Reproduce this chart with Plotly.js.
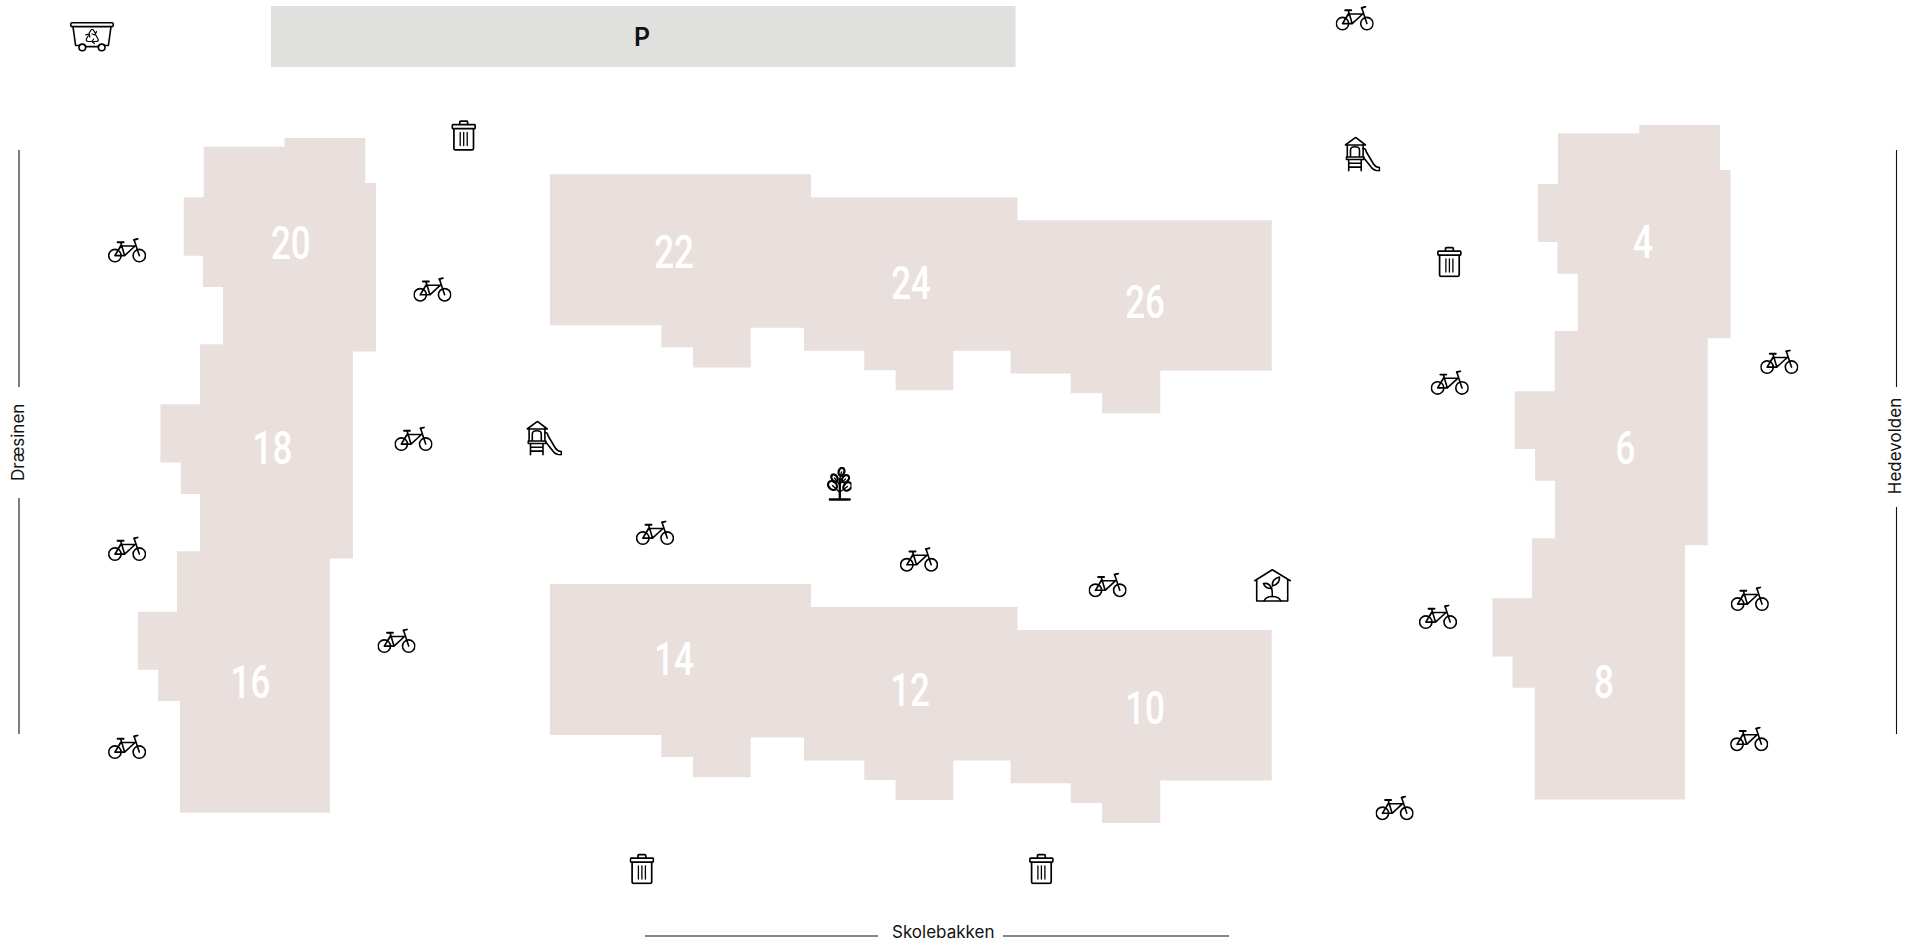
<!DOCTYPE html>
<html>
<head>
<meta charset="utf-8">
<script src="https://cdn.plot.ly/plotly-3.0.1.min.js"></script>
<style>html,body{margin:0;padding:0;background:#fff;overflow:hidden}#chart{width:1917px;height:942px}</style>
</head>
<body>
<div id="chart"></div>
<script>
// Site plan, read in picture units (x to the right, y downward)
const westBlockX = [203.7,284.5,284.5,365.3,365.3,376,376,353,353,330,330,180,180,158,158,138,138,177,177,200,200,180.8,180.8,160.4,160.4,200,200,222.9,222.9,202.9,202.9,183.7,183.7,203.7,203.7];
const westBlockY = [146.7,146.7,138,138,183,183,351.5,351.5,558.5,558.5,812.7,812.7,701,701,669.7,669.7,611.7,611.7,551.2,551.2,494,494,462.6,462.6,404.3,404.3,344.2,344.2,287,287,255.7,255.7,197.3,197.3,146.7];

const eastBlockX = [1557.9,1639.1,1639.1,1720,1720,1730.5,1730.5,1707.8,1707.8,1685,1685,1534.7,1534.7,1512.4,1512.4,1492.5,1492.5,1531.9,1531.9,1555,1555,1535,1535,1514.8,1514.8,1554.6,1554.6,1577.8,1577.8,1557.5,1557.5,1538,1538,1557.9,1557.9];
const eastBlockY = [133.3,133.3,125,125,170,170,338.2,338.2,545.2,545.2,799.5,799.5,687.7,687.7,656.4,656.4,598.2,598.2,538.2,538.2,480.7,480.7,449,449,391.3,391.3,331,331,273.7,273.7,242,242,184,184,133.3];

const northBlockX = [549.9,811,811,1017.5,1017.5,1271.8,1271.8,1160.3,1160.3,1102,1102,1070.7,1070.7,1010.5,1010.5,953.3,953.3,895.6,895.6,864.3,864.3,804,804,750.8,750.8,693,693,661.3,661.3,549.9,549.9];
const northBlockY = [174.2,174.2,197.2,197.2,220.3,220.3,370.8,370.8,413.2,413.2,393.2,393.2,373.5,373.5,350.8,350.8,390.2,390.2,370.2,370.2,350.8,350.8,327.8,327.8,367.5,367.5,347.2,347.2,325.2,325.2,174.2];

const southBlockX = [549.9,811,811,1017.5,1017.5,1271.8,1271.8,1160.3,1160.3,1102,1102,1070.7,1070.7,1010.5,1010.5,953.3,953.3,895.6,895.6,864.3,864.3,804,804,750.8,750.8,693,693,661.3,661.3,549.9,549.9];
const southBlockY = [584,584,607,607,630,630,780.5,780.5,823,823,803,803,783.2,783.2,760.5,760.5,800,800,780,780,760.5,760.5,737.5,737.5,777.2,777.2,757,757,735,735,584];

const parkingX = [271,1015.5,1015.5,271,271];
const parkingY = [6,6,67,67,6];

const houseNumbers = ["20","18","16","22","24","26","14","12","10","4","6","8"];
const houseX = [290.8,272.4,250.4,674,911,1145,674,910,1145,1643,1625.5,1604];
const houseY = [247,452.5,686.5,256.5,287.5,306,663.5,694,712.5,246.5,452.5,686.5];

const bikeX = [1354.7,127.1,432.4,413.5,127.1,396.5,127.1,655,919,1107.6,1449.8,1779.3,1438,1749.8,1749.2,1394.6];
const bikeY = [18.5,250.5,289.7,439,549,641,747,533,559.7,585.2,382.8,362,617,599,739.2,808.2];
const trashX = [463.7,1449.4,641.9,1041.4];
const trashY = [135,261.5,868.5,868.5];
const playX = [544.3,1362.5];
const playY = [438,154];
const recycleX = [92];
const recycleY = [37];
const treeX = [839];
const treeY = [484];
const greenhouseX = [1272.5];
const greenhouseY = [585.5];

const roadLinesX = [[19,19],[19,19],[1896.5,1896.5],[1896.5,1896.5],[645,878],[1003,1229]];
const roadLinesY = [[150,387],[498,734],[150,387],[507,734],[936,936],[936,936]];
const roadNames = ["Skolebakken","Dræsinen","Hedevolden"];
const roadNameX = [943,18,1894.5];
const roadNameY = [931.5,443,446.7];
const roadNameAngle = [0,-90,-90];

const buildingColor = "#e9e0de";
const parkingColor = "#e0e0de";

function icon(w,h,body){
  const svg = '<svg xmlns="http://www.w3.org/2000/svg" width="'+(w*4)+'" height="'+(h*4)+'" viewBox="0 0 '+w+' '+h+'" fill="none" stroke="#000" stroke-linecap="round" stroke-linejoin="round">'+body+'</svg>';
  return {w:w,h:h,src:'data:image/svg+xml;base64,'+btoa(svg)};
}
const bikeIcon = icon(38,25,'<g stroke-width="1.6"><circle cx="6.8" cy="17.6" r="6.2"/><circle cx="31.2" cy="17.6" r="6.2"/><path d="M6.8 17.6H16.5L27 8H12.8ZM6.8 17.6L12.8 7.5M16.5 17.6L12.6 4.5M31.2 17.6L26 1.8"/><path stroke-width="1.9" d="M9.5 4.3H15.5M26 1.9L29.5 .8"/></g>');
const trashIcon = icon(25,32,'<g stroke-width="1.7"><rect x="1" y="5.6" width="23" height="4" rx=".8"/><path d="M8.6 5.5V3.2Q8.6 2.2 9.6 2.2H15.4Q16.4 2.2 16.4 3.2V5.5"/><path d="M2.7 9.8V29.6Q2.7 30.8 3.9 30.8H21.1Q22.3 30.8 22.3 29.6V9.8"/><path d="M9 13.5V26.5M12.5 13.5V26.5M16 13.5V26.5" stroke-width="1.3"/></g>');
const playIcon = icon(36,35,'<g stroke-width="1.6"><path d="M.8 8.5L11.2 .8L21 8.5Z"/><path d="M2.8 8.5V20.5M18.6 8.5V20.5"/><path d="M6 20V13.5Q6 10.3 10.6 10.3Q15 10.3 15 13.5V20"/><path d="M2 20.5H19.5V23H2Z"/><path d="M4.2 23V34.5M16.7 23V34.5M4.2 26.8H16.7M4.2 30.6H16.7"/><path d="M18.6 12Q21.6 12 21.6 15L29 27.5Q31 30.8 35 31V34.4Q29.5 34.4 27 31L19.4 21.5"/></g>');
const recycleIcon = icon(44,30,'<g stroke-width="1.6"><rect x=".8" y=".8" width="42.4" height="3.8" rx="1.2"/><path d="M3 4.6L5.6 23.5H9M41 4.6L38.4 23.5H35M15.5 24.6H28.5" /><circle cx="12.3" cy="25.4" r="3.3"/><circle cx="31.7" cy="25.4" r="3.3"/><path stroke-width="1.2" d="M19 11.5L21 8Q22 6.5 23.3 8L25 10.6M26.5 9.6L25.2 12.8L22 12M26 13.5L28 17Q28.8 19 26.8 19.5H23.5M24.5 21.5L21.8 19.5L23.7 17M21 19.5H17.8Q15.6 19 16.5 16.8L18.3 13.8M15.8 12.8L19.2 12L19.9 15.2"/></g>');
const treeIcon = icon(25,34,'<g stroke-width="2.3"><path d="M3.3 32.5H23.3M13.3 32.5V12"/><ellipse cx="6" cy="18.5" rx="3.9" ry="4.9" transform="rotate(-45 6 18.5)"/><ellipse cx="21" cy="19.5" rx="3.6" ry="4.6" transform="rotate(45 21 19.5)"/><ellipse cx="8" cy="11" rx="2.8" ry="3.9" transform="rotate(-35 8 11)"/><ellipse cx="19" cy="11.8" rx="3" ry="4.1" transform="rotate(40 19 11.8)"/><ellipse cx="15" cy="4.8" rx="2.8" ry="4" transform="rotate(15 15 4.8)"/><path d="M13.3 25.5L6 18.5M13.3 25L21 19.5M13.3 18L8 11M13.3 17L19 12M13.3 12L15 5" stroke-width="1.3"/></g>');
const greenhouseIcon = icon(37,33,'<g stroke-width="1.6"><path d="M.7 11.7L18.3 .8L36.3 11.7M2.7 10.5V32H33.7V10.5"/><path d="M10 32Q12 27.5 18.3 27.5Q25 27.5 26.8 32"/><path d="M18.3 27.5Q18.5 22 17.5 18.5"/><path d="M17.5 19.5Q11 19.5 9.5 14.5Q15.5 13.5 17.5 19.5Z"/><path d="M18.5 17Q17.5 10 25.5 8Q26 15 18.5 17Z"/></g>');

function place(ic,xs,ys){
  return xs.map((x,i)=>({source:ic.src,xref:"x",yref:"y",x:x-ic.w/2,y:ys[i]-ic.h/2,sizex:ic.w,sizey:ic.h,sizing:"stretch",xanchor:"left",yanchor:"top",layer:"above"}));
}

function block(xs,ys,color){
  return {x:xs,y:ys,type:"scatter",mode:"lines",fill:"toself",fillcolor:color,line:{width:0,color:color},hoverinfo:"skip",showlegend:false};
}

const traces = [
  block(parkingX,parkingY,parkingColor),
  block(westBlockX,westBlockY,buildingColor),
  block(eastBlockX,eastBlockY,buildingColor),
  block(northBlockX,northBlockY,buildingColor),
  block(southBlockX,southBlockY,buildingColor),
];
roadLinesX.forEach((lx,i)=>traces.push({x:lx,y:roadLinesY[i],type:"scatter",mode:"lines",line:{color:"#111111",width:1.1},hoverinfo:"skip",showlegend:false}));
traces.push({x:houseX,y:houseY,text:houseNumbers,type:"scatter",mode:"text",textposition:"middle center",textfont:{family:"Roboto, Liberation Sans",size:46,weight:500,color:"#ffffff"},hoverinfo:"skip",showlegend:false});

const annotations = roadNames.map((t,i)=>({text:t,x:roadNameX[i],y:roadNameY[i],xref:"x",yref:"y",showarrow:false,borderpad:0,textangle:roadNameAngle[i],xanchor:"center",yanchor:"middle",font:{family:"Inter, Noto Sans",size:17,color:"#111"}}));
annotations.push({text:"P",x:642,y:37,xref:"x",yref:"y",showarrow:false,xanchor:"center",yanchor:"middle",font:{family:"Inter, Noto Sans",size:25,color:"#111",weight:600}});

const layout = {
  width:1917,height:942,margin:{l:0,r:0,t:0,b:0,pad:0},
  paper_bgcolor:"#fff",plot_bgcolor:"#fff",showlegend:false,
  xaxis:{range:[0,1917],visible:false,fixedrange:true},
  yaxis:{range:[942,0],visible:false,fixedrange:true},
  annotations:annotations,
  images:[].concat(place(bikeIcon,bikeX,bikeY),place(trashIcon,trashX,trashY),place(playIcon,playX,playY),place(recycleIcon,recycleX,recycleY),place(treeIcon,treeX,treeY),place(greenhouseIcon,greenhouseX,greenhouseY))
};
Plotly.newPlot("chart",traces,layout,{displayModeBar:false,staticPlot:true}).then(()=>{
  // the building numbers in the reference use a condensed face: squeeze the real text
  document.querySelectorAll("#chart .textpoint text").forEach(t=>{
    const len=t.getComputedTextLength();
    t.setAttribute("textLength",(len*0.76).toFixed(1));
    t.setAttribute("lengthAdjust","spacingAndGlyphs");
  });
});
</script>
</body>
</html>
